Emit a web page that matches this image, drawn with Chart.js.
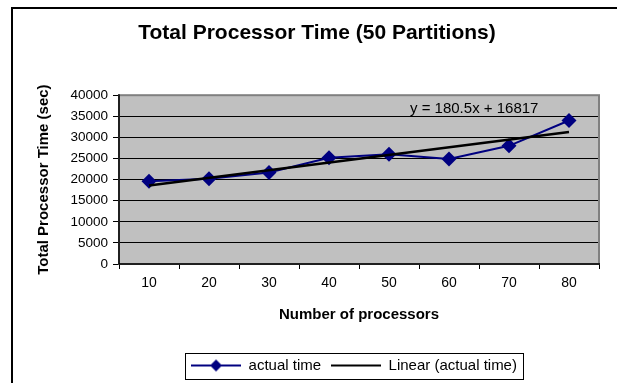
<!DOCTYPE html>
<html>
<head>
<meta charset="utf-8">
<script src="https://cdn.jsdelivr.net/npm/chart.js@4.4.1/dist/chart.umd.min.js"></script>
<style>
  html, body { margin: 0; padding: 0; background: #fff; }
  #wrap { width: 617px; height: 383px; }
</style>
</head>
<body>
<div id="wrap"><canvas id="chart" width="617" height="383"></canvas></div>
<script>
// data
let processors = ["10", "20", "30", "40", "50", "60", "70", "80"];
let actualTime = [19600, 20200, 21700, 25200, 26000, 24900, 28000, 34000];
// linear trend, only its two ends (y = 180.5x + 16817)
let trendLine = [18622, null, null, null, null, null, null, 31257];
let yTicks = [0, 5000, 10000, 15000, 20000, 25000, 30000, 35000, 40000];

const FONT = "'Liberation Sans', Arial, sans-serif";
Chart.defaults.font.family = FONT;
Chart.defaults.color = "#000";

// legend symbols
function legendIcon(withDiamond, color) {
    let c = document.createElement("canvas");
    c.width = 50;
    c.height = 16;
    let g = c.getContext("2d");
    g.strokeStyle = color;
    g.lineWidth = 2;
    g.beginPath();
    g.moveTo(0, 8);
    g.lineTo(50, 8);
    g.stroke();
    if (withDiamond) {
        g.fillStyle = color;
        g.beginPath();
        g.moveTo(25, 2);
        g.lineTo(31, 8);
        g.lineTo(25, 14);
        g.lineTo(19, 8);
        g.closePath();
        g.fill();
    }
    return c;
}
let icons = [legendIcon(true, "#000080"), legendIcon(false, "#000")];

let excelLook = {
    id: "excelLook",
    afterLayout(chart) {
        // nudge title and legend to where the reference has them
        let t = chart.titleBlock;
        t.left += 11; t.right += 11;
        let l = chart.legend;
        l.left += 48; l.right += 48;
    },
    beforeDraw(chart) {
        let a = chart.chartArea;
        let ctx = chart.ctx;
        ctx.save();
        ctx.fillStyle = "#C0C0C0";
        ctx.fillRect(a.left, a.top, a.right - a.left, a.bottom - a.top);
        ctx.restore();
    },
    beforeDatasetsDraw(chart) {
        let a = chart.chartArea;
        let ctx = chart.ctx;
        ctx.save();
        ctx.strokeStyle = "#808080";
        ctx.lineWidth = 2;
        ctx.strokeRect(a.left, a.top, a.right - a.left, a.bottom - a.top);
        ctx.strokeStyle = "#000";
        ctx.lineWidth = 1.5;
        ctx.beginPath();
        ctx.moveTo(a.left, a.top - 1);
        ctx.lineTo(a.left, a.bottom);
        ctx.lineTo(a.right + 1, a.bottom);
        ctx.stroke();
        ctx.restore();
    },
    afterDraw(chart) {
        let a = chart.chartArea;
        let ctx = chart.ctx;
        ctx.save();
        // trendline equation
        ctx.font = "15px " + FONT;
        ctx.fillStyle = "#000";
        ctx.textBaseline = "middle";
        ctx.fillText("y = 180.5x + 16817", a.left + 291, a.top + 14);
        // box round the legend
        let boxes = chart.legend.legendHitBoxes;
        if (boxes.length) {
            let first = boxes[0], last = boxes[boxes.length - 1];
            let cy = first.top + first.height / 2;
            ctx.strokeStyle = "#000";
            ctx.lineWidth = 1;
            ctx.strokeRect(Math.round(first.left - 6) + 0.5, Math.round(cy - 13) + 0.5,
                Math.round(last.left + last.width - first.left + 12), 26);
        }
        // outer chart border (left and top edges)
        ctx.lineWidth = 2;
        ctx.beginPath();
        ctx.moveTo(12, 383);
        ctx.lineTo(12, 8);
        ctx.lineTo(617, 8);
        ctx.stroke();
        ctx.restore();
    }
};

let ctx1 = document.getElementById("chart");

new Chart(ctx1, {
    type: "line",
    data: {
        labels: processors,
        datasets: [{
            label: "actual time",
            data: actualTime,
            borderColor: "#000080",
            backgroundColor: "#000080",
            borderWidth: 2,
            pointStyle: "rectRot",
            pointRadius: 7.5,
            pointBackgroundColor: "#000080",
            pointBorderWidth: 0,
            tension: 0,
            order: 2
        }, {
            label: "Linear (actual time)",
            data: trendLine,
            borderColor: "#000",
            borderWidth: 2.5,
            pointRadius: 0,
            spanGaps: true,
            tension: 0,
            order: 1
        }]
    },
    options: {
        responsive: false,
        animation: false,
        devicePixelRatio: 1,
        layout: { padding: { left: 13, right: 18, top: 8, bottom: 0 } },
        plugins: {
            title: {
                display: true,
                text: "Total Processor Time (50 Partitions)",
                font: { size: 21, weight: "bold" },
                color: "#000",
                padding: { top: 13, bottom: 49 }
            },
            legend: {
                position: "bottom",
                labels: {
                    usePointStyle: true,
                    pointStyleWidth: 50,
                    padding: 10,
                    color: "#000",
                    font: { size: 15 },
                    sort: (a, b) => a.datasetIndex - b.datasetIndex,
                    generateLabels(chart) {
                        let items = Chart.defaults.plugins.legend.labels.generateLabels(chart);
                        items.forEach(it => { it.pointStyle = icons[it.datasetIndex]; });
                        return items;
                    }
                }
            },
            tooltip: { enabled: false }
        },
        scales: {
            x: {
                offset: true,
                grid: {
                    offset: true,
                    drawOnChartArea: false,
                    tickLength: 5,
                    color: "#000"
                },
                border: { color: "#000" },
                ticks: { font: { size: 14 }, color: "#000", maxRotation: 0, padding: 6 },
                title: {
                    display: true,
                    text: "Number of processors",
                    font: { size: 15, weight: "bold" },
                    color: "#000",
                    padding: { top: 0, bottom: 24 }
                },
                afterFit(scale) { scale.height = 84; }
            },
            y: {
                min: 0,
                max: 40000,
                afterBuildTicks(scale) { scale.ticks = yTicks.map(v => ({ value: v })); },
                grid: { color: "#000", tickLength: 6 },
                border: { color: "#000" },
                ticks: {
                    font: { size: 13.5 },
                    color: "#000",
                    padding: 5,
                    callback: v => String(v)
                },
                title: {
                    display: true,
                    text: "Total Processor Time (sec)",
                    font: { size: 15, weight: "bold" },
                    color: "#000",
                    padding: { top: 22, bottom: 0 }
                },
                afterFit(scale) { scale.width = 106; }
            }
        }
    },
    plugins: [excelLook]
});
</script>
</body>
</html>
